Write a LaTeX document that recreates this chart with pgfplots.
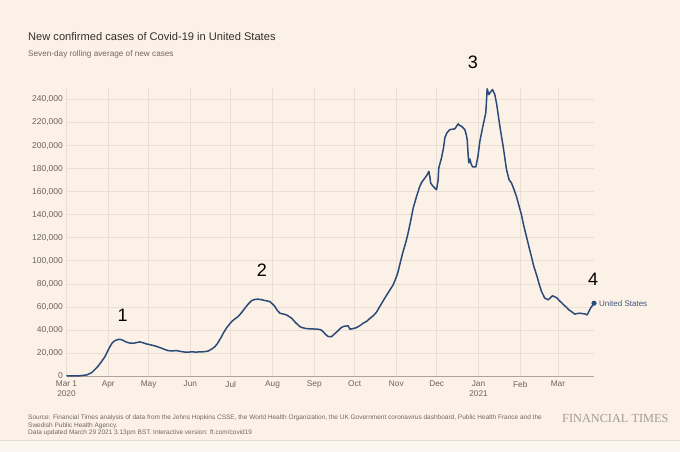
\documentclass[border=0pt]{standalone}
\usepackage{pgfplots}
\pgfplotsset{compat=1.18}
\usepackage{fontspec}
\setmainfont{Liberation Sans}
\newfontfamily\ftserif{Liberation Serif}
\definecolor{bg}{HTML}{FCF1E6}
\definecolor{bg2}{HTML}{FCF6F0}
\definecolor{edgec}{HTML}{E4D9CF}
\definecolor{gridc}{HTML}{EADFD4}
\definecolor{basec}{HTML}{ABA39C}
\definecolor{linec}{HTML}{2B4A78}
\definecolor{titlec}{HTML}{33302E}
\definecolor{subc}{HTML}{6F6863}
\definecolor{tickc}{HTML}{6A635E}
\definecolor{ftgray}{HTML}{A39C96}
\definecolor{usc}{HTML}{40567A}
\begin{document}
\begin{tikzpicture}[x=1pt,y=1pt]
\useasboundingbox (0,0) rectangle (680,452);
\fill[bg] (0,0) rectangle (680,452);
\fill[bg2] (0,0) rectangle (680,11.3);
\draw[edgec, line width=0.8pt] (0,11.3) -- (680,11.3);
\node[anchor=base west, inner sep=0, text=titlec, font=\fontsize{11.1}{13}\selectfont] at (28,411) {New confirmed cases of Covid-19 in United States};
\node[anchor=base west, inner sep=0, text=subc, font=\fontsize{8.2}{10}\selectfont] at (28,395.3) {Seven-day rolling average of new cases};
\begin{axis}[
  at={(66.5pt,76pt)}, anchor=south west,
  width=527.8pt, height=288pt, scale only axis,
  xmin=0, xmax=392, ymin=0, ymax=250000,
  clip=false,
  axis y line*=left,
  axis x line*=bottom,
  y axis line style={draw=none},
  x axis line style={draw=basec, line width=0.8pt},
  xtick={0,31,61,92,122,153,184,214,245,275,306,337,365},
  xticklabels={{Mar 1\\2020},Apr,May,Jun,Jul,Aug,Sep,Oct,Nov,Dec,{Jan\\2021},Feb,Mar},
  ytick={0,20000,40000,60000,80000,100000,120000,140000,160000,180000,200000,220000,240000},
  yticklabels={0,{20,000},{40,000},{60,000},{80,000},{100,000},{120,000},{140,000},{160,000},{180,000},{200,000},{220,000},{240,000}},
  scaled y ticks=false,
  major tick length=0pt,
  grid=major,
  major grid style={draw=gridc, line width=0.6pt},
  xticklabel style={align=center, text=tickc, font=\fontsize{8.3}{9.6}\selectfont, yshift=-1.5pt},
  yticklabel style={text=tickc, font=\fontsize{8.5}{10}\selectfont, anchor=east, inner sep=0pt, xshift=-3.5pt},
]
\addplot[linec, line width=1.5pt, line join=round] coordinates {
(0,0) (10,200) (15,900) (18.7,2900) (21,5500) (23.6,8700) (26,12500) (28.6,16800)
(30.5,21500) (32.3,25500) (34,28800) (36,30700) (39,31900) (41,31500) (44.7,29300)
(47,28600) (49.6,28400) (52,29000) (54.6,29600) (57,28800) (59.5,27800) (62,27200)
(65.7,26100) (68,25200) (70.7,24100) (73,23000) (75.6,22000) (78,21800) (81.8,22000)
(84,21500) (86.7,20900) (89,20700) (92.9,20900) (96,20800) (100.4,20900) (103,21200)
(105.3,21700) (108,23500) (110.2,25500) (112,28000) (115.2,34200) (116.4,37100)
(119,42000) (122.6,47200) (125,49500) (127.5,51600) (130,55000) (132.5,58900)
(135,62500) (137.5,65500) (140,66500) (142.4,66700) (145,66200) (147.4,65500)
(149,65200) (151,64600) (153,62500) (154.8,60300) (156.5,57000) (158.5,54500)
(161,53800) (163.5,53000) (165,51800) (167.2,50200) (170,46500) (173.3,42900)
(175,42000) (178.3,41100) (182,40900) (187,40600) (189,40000) (190.6,38500)
(192.5,36000) (194.4,34200) (196.9,34200) (199,36500) (201.8,39400) (203.5,41500)
(205.5,42900) (207,43300) (209.2,43500) (210.5,40600) (213,41200) (215.4,42000)
(218,43800) (220.3,45800) (223,47500) (225.3,50000) (228,52500) (230.3,55500)
(233,61000) (236.4,67600) (239,72500) (242.6,79100) (245,86000) (246.3,90700)
(248,99000) (250,108100) (252,116000) (253.7,124100) (255.5,134000) (257.5,145800)
(260,156000) (262.4,164600) (264,168500) (266.2,171900) (268,175000) (269.1,177700)
(270,172000) (270.4,167600) (272,165000) (274.8,161700) (276,170000) (276.5,180600)
(278.5,189300) (280,198000) (281,206700) (282.5,211000) (284.7,213900) (286.5,214200)
(288.4,214500) (289.7,216800) (290.9,218900) (292,217500) (293.4,216800) (295.8,213900)
(296.8,210000) (297.6,205200) (298.3,192000) (298.8,185000) (299.6,188400) (300.5,184000)
(301.6,181500) (304,181500) (305.5,190000) (307,203700) (309,215400) (311.4,228500)
(312,240000) (312.4,249300) (313.7,244300) (314.9,246400) (316.4,248700) (318.1,244300)
(319.5,236000) (320.6,227000) (322.5,212000) (324.3,199400) (326.8,179100) (328.7,170400)
(330.5,167600) (332,163000) (334.2,155900) (336,148000) (337.9,140000) (339.5,131000)
(341.6,121100) (343.5,112000) (345.3,103700) (347,95500) (349.1,87800) (351,80000)
(352.8,73300) (355.2,67600) (357.7,66100) (359.5,68000) (360.9,69600) (362.5,68800)
(364.4,67600) (366,65500) (367.6,63700) (369.5,61500) (371.3,59700) (373,57500)
(375.1,55900) (377.5,53700) (379,54200) (381.2,54500) (383,54200) (385,53900)
(386.7,53000) (388,56000) (389.2,58900) (391.8,63200)
};
\addplot[only marks, mark=*, mark size=2.3pt, color=linec] coordinates {(391.8,63200)};
\node[anchor=west, text=usc, font=\fontsize{8}{10}\selectfont, inner sep=0pt] at (axis cs:395.5,63200) {United States};
\node[font=\fontsize{18}{20}\selectfont] at (axis cs:41.7,53000) {1};
\node[font=\fontsize{18}{20}\selectfont] at (axis cs:145.1,92200) {2};
\node[font=\fontsize{18}{20}\selectfont] at (axis cs:301.8,272200) {3};
\node[font=\fontsize{18}{20}\selectfont] at (axis cs:391.1,84100) {4};
\end{axis}
\node[anchor=north west, inner sep=0, align=left, text=subc, font=\fontsize{6.5}{7.5}\selectfont] at (28,37.3) {Source: Financial Times analysis of data from the Johns Hopkins CSSE, the World Health Organization, the UK Government coronavirus dashboard, Public Health France and the\\Swedish Public Health Agency.\\Data updated March 29 2021 3.13pm BST. Interactive version: ft.com/covid19};
\node[anchor=west, inner sep=0, text=ftgray, font=\ftserif\fontsize{12.3}{14}\selectfont] at (562,34) {FINANCIAL TIMES};
\end{tikzpicture}
\end{document}
